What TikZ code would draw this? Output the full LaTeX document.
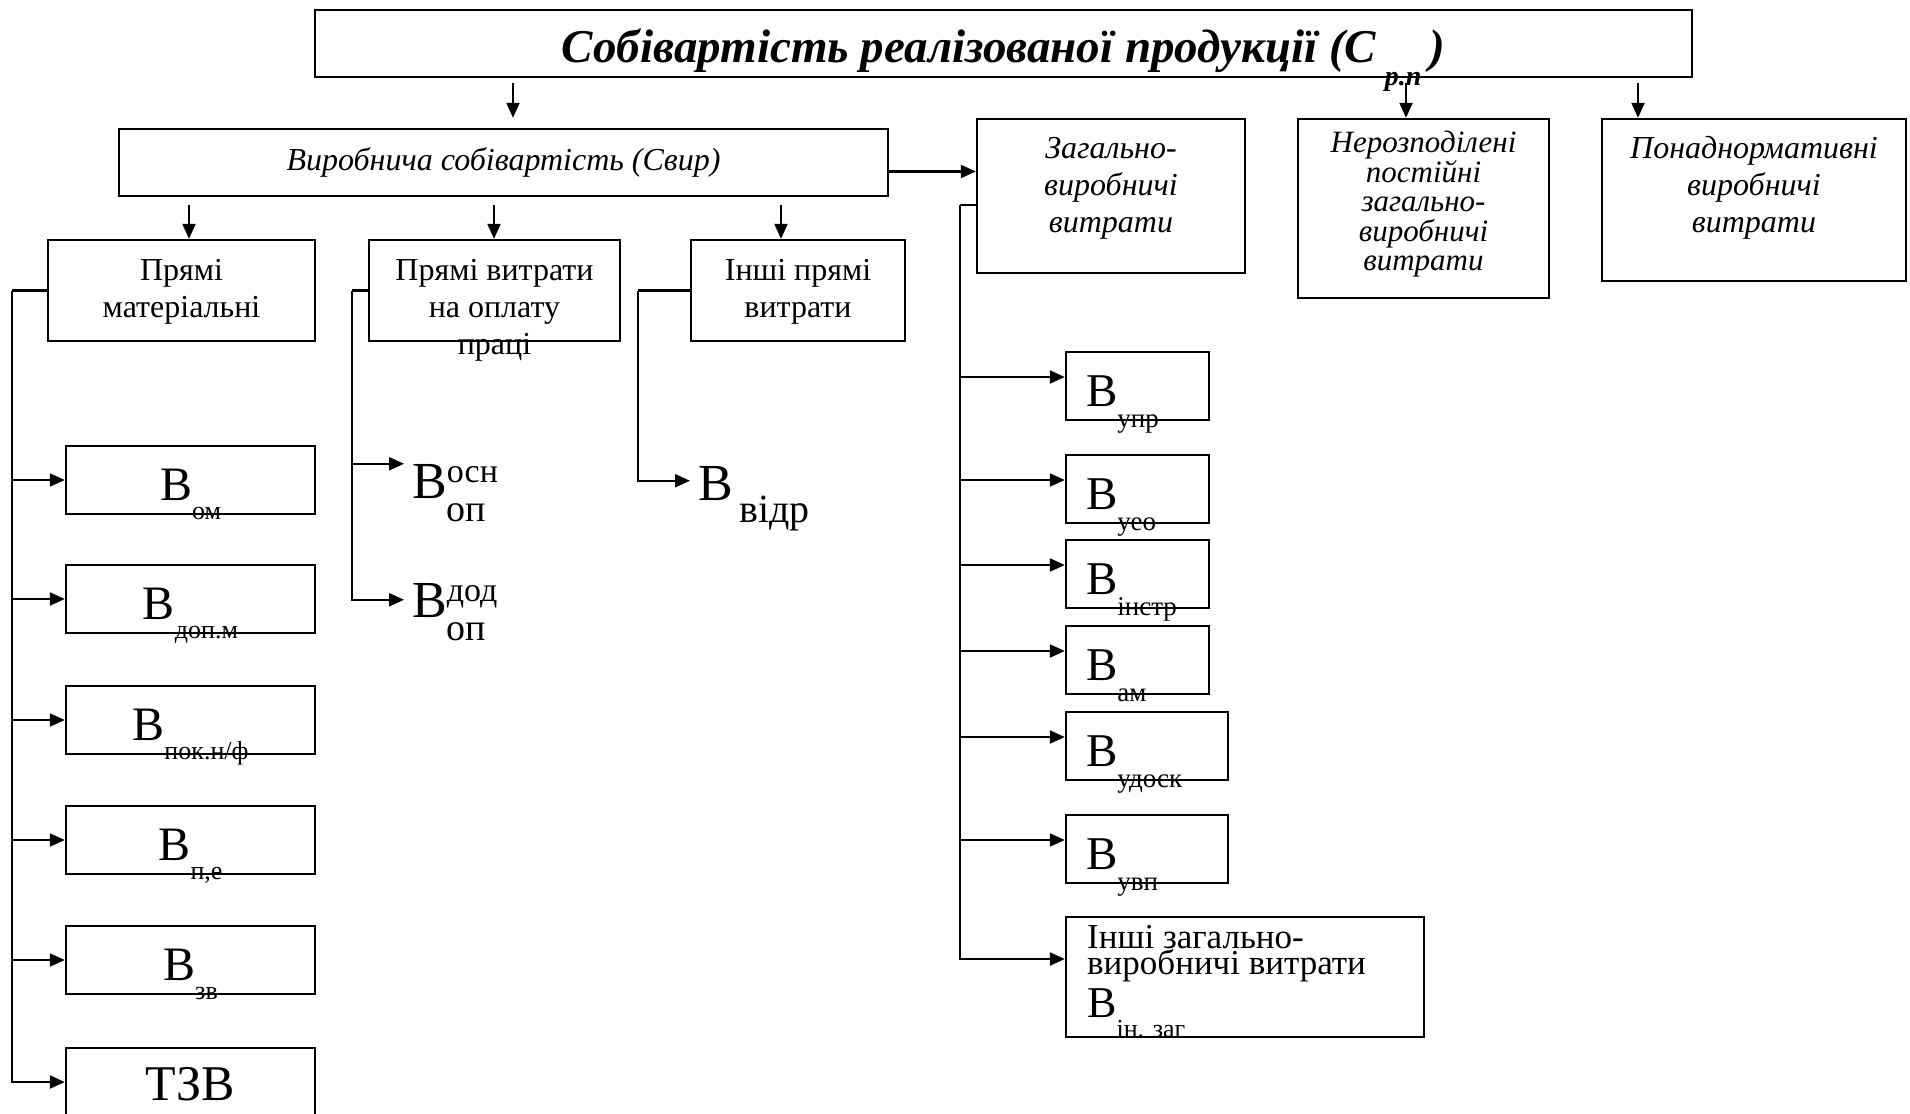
\documentclass[tikz,border=0pt]{standalone}
\usepackage{fontspec}
\setmainfont{Liberation Serif}
\usetikzlibrary{arrows.meta,positioning}

\newcommand{\fsz}[2]{\fontsize{#1}{#2}\selectfont}

\begin{document}
\begin{tikzpicture}[x=1pt,y=-1pt,
  box/.style={draw, line width=2.4pt, inner sep=0pt},
  ln/.style={line width=2.2pt},
  arr/.style={line width=2.2pt, -{Triangle[length=15pt,width=13pt]}},
  txt/.style={inner sep=0pt, align=center, font=\fsz{32}{37}},
  itxt/.style={inner sep=0pt, align=center, font=\fsz{32}{37}\itshape},
  big/.style={inner sep=0pt, font=\fsz{48}{50}}]
\useasboundingbox (0,0) rectangle (1910,1113);

\node[box, minimum width=1377pt, minimum height=67pt] (top) at (1003.5,43.5) {};
\node[anchor=base, inner sep=0pt, font=\fsz{47}{50}\bfseries\itshape] (ttl) at ([yshift=-19.5pt]top.center)
  {Собівартість реалізованої продукції (С\hspace{9pt}\raisebox{-23pt}{\fsz{28}{28}р.п}\hspace{8pt})};

\node[box, minimum width=769pt, minimum height=67pt, font=\fsz{32}{34}\itshape] (svyr) at (503.5,162.5) {Виробнича собівартість (Свир)};
\node[box, minimum width=268pt, minimum height=154pt] (zag) at (1111,196) {};
\node[box, minimum width=251pt, minimum height=179pt] (nerozp) at (1423.5,208.5) {};
\node[box, minimum width=304pt, minimum height=162pt] (ponad) at (1754,200) {};
\node[itxt, anchor=north] (zagt) at ([yshift=-19pt]zag.north) {Загально-\\виробничі\\витрати};
\node[itxt, anchor=north, font=\fsz{31}{29.5}\itshape] (nerozpt) at ([yshift=-13pt]nerozp.north) {Нерозподілені\\постійні\\загально-\\виробничі\\витрати};
\node[itxt, anchor=north] (ponadt) at ([yshift=-18pt]ponad.north) {Понаднормативні\\виробничі\\витрати};

\node[box, minimum width=267pt, minimum height=101pt] (pm) at (181.5,290.5) {};
\node[box, minimum width=251pt, minimum height=101pt] (pvop) at (494.5,290.5) {};
\node[box, minimum width=214pt, minimum height=101pt] (ipv) at (798,290.5) {};
\node[txt, anchor=north] (pmt) at ([yshift=-20pt]pm.north) {Прямі\\матеріальні};
\node[txt, anchor=north] (pvopt) at ([yshift=-20pt]pvop.north) {Прямі витрати\\на оплату\\праці};
\node[txt, anchor=north] (ipvt) at ([yshift=-20pt]ipv.north) {Інші прямі\\витрати};

\node[box, minimum width=249pt, minimum height=68pt] (om) at (190.5,480) {};
\node[box, minimum width=249pt, minimum height=68pt] (dopm) at (190.5,599) {};
\node[box, minimum width=249pt, minimum height=68pt] (pok) at (190.5,720) {};
\node[box, minimum width=249pt, minimum height=68pt] (pe) at (190.5,840) {};
\node[box, minimum width=249pt, minimum height=68pt] (zv) at (190.5,960) {};
\node[box, minimum width=249pt, minimum height=68pt] (tzv) at (190.5,1082) {};
\node[big, anchor=base] (omt) at ([yshift=-20pt]om.center) {В\raisebox{-19pt}{\fsz{26}{28}ом}};
\node[big, anchor=base] (dopmt) at ([yshift=-20pt]dopm.center) {В\raisebox{-19pt}{\fsz{26}{28}доп.м}};
\node[big, anchor=base] (pokt) at ([yshift=-20pt]pok.center) {В\raisebox{-19pt}{\fsz{26}{28}пок.н/ф}};
\node[big, anchor=base] (pet) at ([yshift=-20pt]pe.center) {В\raisebox{-19pt}{\fsz{26}{28}п,е}};
\node[big, anchor=base] (zvt) at ([yshift=-20pt]zv.center) {В\raisebox{-19pt}{\fsz{26}{28}зв}};
\node[big, anchor=base, font=\fsz{50}{52}] (tzvt) at (190,1100) {ТЗВ};

\node[big, anchor=base west, font=\fsz{52}{54}] (vosn) at (412,498)
  {В\rlap{\raisebox{16pt}{\fsz{34}{36}осн}}\raisebox{-23pt}{\fsz{38}{40}оп}};
\node[big, anchor=base west, font=\fsz{52}{54}] (vdod) at (412,617)
  {В\rlap{\raisebox{16pt}{\fsz{34}{36}дод}}\raisebox{-23pt}{\fsz{38}{40}оп}};
\node[big, anchor=base west, font=\fsz{52}{54}] (vidr) at (698,500) {В\raisebox{-22pt}{\fsz{40}{42}\,відр}};

\node[box, minimum width=143pt, minimum height=68pt] (upr) at (1137.5,386) {};
\node[box, minimum width=143pt, minimum height=68pt] (ueo) at (1137.5,489) {};
\node[box, minimum width=143pt, minimum height=68pt] (instr) at (1137.5,574) {};
\node[box, minimum width=143pt, minimum height=68pt] (am) at (1137.5,660) {};
\node[box, minimum width=162pt, minimum height=68pt] (udosk) at (1147,746) {};
\node[box, minimum width=162pt, minimum height=68pt] (uvp) at (1147,849) {};
\node[box, minimum width=358pt, minimum height=120pt] (inzag) at (1245,977) {};
\node[big, anchor=base west, font=\fsz{47}{50}] (uprt) at ([xshift=21pt,yshift=-20pt]upr.west) {В\raisebox{-21pt}{\fsz{27}{28}упр}};
\node[big, anchor=base west, font=\fsz{47}{50}] (ueot) at ([xshift=21pt,yshift=-20pt]ueo.west) {В\raisebox{-21pt}{\fsz{27}{28}уео}};
\node[big, anchor=base west, font=\fsz{47}{50}] (instrt) at ([xshift=21pt,yshift=-20pt]instr.west) {В\raisebox{-21pt}{\fsz{27}{28}інстр}};
\node[big, anchor=base west, font=\fsz{47}{50}] (amt) at ([xshift=21pt,yshift=-20pt]am.west) {В\raisebox{-21pt}{\fsz{27}{28}ам}};
\node[big, anchor=base west, font=\fsz{47}{50}] (udoskt) at ([xshift=21pt,yshift=-20pt]udosk.west) {В\raisebox{-21pt}{\fsz{27}{28}удоск}};
\node[big, anchor=base west, font=\fsz{47}{50}] (uvpt) at ([xshift=21pt,yshift=-20pt]uvp.west) {В\raisebox{-21pt}{\fsz{27}{28}увп}};
\node[anchor=base west, inner sep=0pt, align=left, font=\fsz{35}{26}] (inzagt) at (1087,974)
  {Інші загально-\\виробничі витрати};
\node[big, anchor=base west, font=\fsz{44}{46}] (inzagv) at (1087,1017) {В\raisebox{-20pt}{\fsz{26}{28}ін. заг}};

\coordinate (a1) at (513,83);
\coordinate (a2) at (1406,83);
\coordinate (a3) at (1638,83);
\draw[arr, shorten >=10pt] (a1) -- (a1 |- svyr.north);
\draw[arr] (a2) -- (a2 |- nerozp.north);
\draw[arr] (a3) -- (a3 |- ponad.north);

\coordinate (d1) at (189,205);
\coordinate (d2) at (494,205);
\coordinate (d3) at (781,205);
\draw[arr] (d1) -- (d1 |- pm.north);
\draw[arr] (d2) -- (d2 |- pvop.north);
\draw[arr] (d3) -- (d3 |- ipv.north);
\draw[arr] ([yshift=-9pt]svyr.east) -- ([yshift=-9pt]svyr.east -| zag.west);

\coordinate (mt) at (12,290.5);
\draw[ln] (pm.west) -- (mt);
\draw[arr] (mt) |- (om.west);
\draw[arr] (mt) |- (dopm.west);
\draw[arr] (mt) |- (pok.west);
\draw[arr] (mt) |- (pe.west);
\draw[arr] (mt) |- (zv.west);
\draw[arr] (mt) |- (tzv.west);

\coordinate (ot) at (352,290.5);
\draw[ln] (pvop.west) -- (ot);
\draw[arr] (ot) |- ([xshift=-8pt]vosn.north west);
\draw[arr] (ot) |- ([xshift=-8pt,yshift=-17pt]vdod.north west);

\coordinate (it) at (638,290.5);
\draw[ln] (ipv.west) -- (it);
\draw[arr] (it) |- ([xshift=-8pt,yshift=-15pt]vidr.north west);

\coordinate (zt) at (960,205);
\draw[ln] ([yshift=-9pt]zag.west) -- (zt);
\draw[arr] (zt) |- ([yshift=9pt]upr.west);
\draw[arr] (zt) |- ([yshift=9pt]ueo.west);
\draw[arr] (zt) |- ([yshift=9pt]instr.west);
\draw[arr] (zt) |- ([yshift=9pt]am.west);
\draw[arr] (zt) |- ([yshift=9pt]udosk.west);
\draw[arr] (zt) |- ([yshift=9pt]uvp.west);
\draw[arr] (zt) |- ([yshift=18pt]inzag.west);
\end{tikzpicture}
\end{document}
